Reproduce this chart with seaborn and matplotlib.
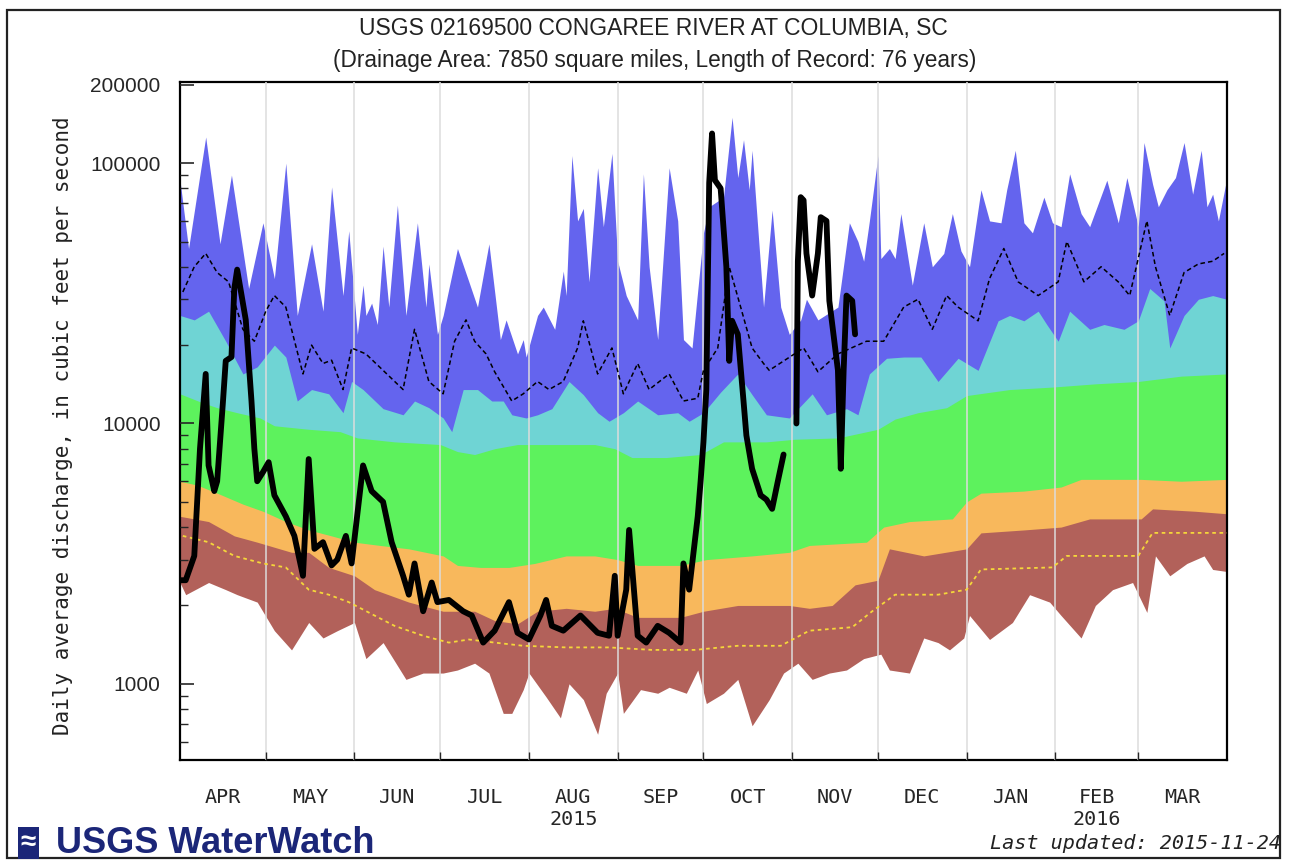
import matplotlib
matplotlib.use("Agg")
import matplotlib.pyplot as plt
import matplotlib.ticker as mticker
from matplotlib.patches import Rectangle
import seaborn as sns

# x axis: days since 2015-04-01
month_start = [0, 30, 61, 91, 122, 153, 183, 214, 244, 275, 306, 335, 366]
month_names = ["APR", "MAY", "JUN", "JUL", "AUG\n2015", "SEP", "OCT", "NOV",
               "DEC", "JAN", "FEB\n2016", "MAR"]

# daily maximum (top of the blue band)
max_day = [0, 3, 9, 14, 18, 24, 29, 33, 37, 41, 46, 50, 53, 57, 59, 62, 64, 65, 67, 69,
           71, 73, 76, 79, 83, 86, 87, 90, 92, 97, 101, 104, 108, 112, 114, 118, 120, 121,
           125, 127, 131, 134, 135, 137, 139, 141, 143, 146, 148, 151, 153, 156, 160, 162,
           164, 167, 171, 174, 176, 179, 183, 185, 190, 193, 195, 197, 199, 200, 204, 207,
           210, 213, 217, 219, 223, 230, 234, 237, 239, 241, 244, 245, 248, 250, 252, 256,
           260, 263, 267, 270, 273, 276, 280, 283, 287, 289, 292, 295, 298, 302, 305, 308,
           311, 315, 318, 321, 324, 328, 331, 335, 337, 340, 342, 345, 348, 351, 354, 357,
           359, 361, 363, 366]
max_cfs = [86000, 47000, 126000, 49000, 90000, 33000, 59000, 36000, 100000, 26000, 49000,
           27000, 81000, 31000, 55000, 22000, 34000, 26000, 29000, 24000, 48000, 28000,
           69000, 26000, 59000, 28000, 41000, 22000, 26000, 47000, 35000, 28000, 49000,
           21000, 25000, 18500, 21000, 18000, 26000, 28000, 23000, 38500, 31000, 107000,
           60000, 67000, 35000, 96000, 57000, 109000, 42000, 31000, 25000, 91000, 40000,
           21000, 96000, 60000, 21000, 19500, 54000, 68000, 74000, 150000, 88000, 123000,
           79000, 112000, 28000, 66000, 28000, 22000, 25000, 30000, 25000, 28000, 59000,
           50000, 42000, 60000, 107000, 43000, 47000, 43000, 64000, 34000, 59000, 40000,
           45000, 64000, 46000, 40000, 79000, 60000, 59000, 79000, 112000, 59000, 54000,
           74000, 59000, 57000, 91000, 64000, 57000, 70000, 86000, 59000, 88000, 57000,
           120000, 83000, 68000, 79000, 88000, 120000, 76000, 112000, 68000, 76000, 60000,
           88000]

# 90th percentile (blue / cyan boundary)
p90_day = [0, 5, 10, 16, 22, 27, 33, 37, 41, 46, 52, 57, 60, 64, 71, 78, 82, 87, 92, 95,
           99, 104, 109, 113, 116, 121, 125, 130, 136, 141, 146, 150, 155, 160, 167, 174,
           178, 183, 189, 195, 200, 205, 213, 221, 226, 233, 237, 241, 247, 253, 259, 265,
           272, 279, 286, 290, 295, 300, 303, 307, 311, 318, 323, 330, 335, 339, 344, 346,
           351, 356, 361, 366]
p90_cfs = [26000, 25000, 27000, 20700, 15500, 16500, 20000, 18000, 12200, 13500, 13000,
           11000, 14500, 13500, 11400, 10800, 12200, 11500, 10500, 9300, 13500, 13500,
           12200, 12200, 10800, 10500, 10800, 11400, 14500, 12900, 11000, 10200, 11000,
           12200, 10800, 11000, 10200, 11000, 13200, 15500, 12900, 10800, 10500, 13000,
           10800, 11400, 10800, 15500, 17800, 18000, 18000, 14500, 17800, 16000, 24800,
           26000, 24800, 27000, 24000, 20700, 27000, 23000, 24000, 23000, 24800, 33000,
           29600, 19500, 26000, 30000, 31000, 30000]

# 75th percentile (cyan / green boundary)
p75_day = [0, 8, 13, 20, 28, 33, 45, 56, 62, 75, 91, 97, 103, 110, 118, 130, 145, 152,
           158, 170, 182, 190, 205, 215, 230, 244, 250, 258, 268, 275, 290, 305, 320, 335,
           350, 366]
p75_cfs = [13000, 12000, 11500, 11000, 10500, 9800, 9500, 9300, 8800, 8500, 8300, 7800,
           7600, 8000, 8300, 8300, 8300, 8000, 7400, 7400, 7600, 8500, 8500, 8700, 8800,
           9500, 10400, 11000, 11500, 12800, 13500, 13800, 14200, 14500, 15200, 15500]

# 25th percentile (green / orange boundary)
p25_day = [0, 6, 13, 22, 29, 37, 45, 53, 61, 70, 80, 92, 97, 105, 115, 124, 135, 145,
           153, 160, 175, 184, 200, 213, 220, 240, 246, 255, 270, 275, 280, 295, 308, 315,
           336, 350, 366]
p25_cfs = [6000, 5800, 5400, 4900, 4600, 4200, 3900, 3700, 3500, 3400, 3300, 3100, 2850,
           2800, 2800, 2900, 3100, 3100, 3000, 2850, 2850, 3000, 3100, 3200, 3400, 3500,
           4000, 4200, 4300, 5000, 5400, 5500, 5700, 6100, 6100, 6000, 6100]

# 10th percentile (orange / brown boundary)
p10_day = [0, 5, 10, 19, 27, 39, 45, 52, 61, 68, 80, 92, 103, 110, 118, 125, 135, 145,
           152, 160, 175, 183, 195, 213, 220, 228, 236, 244, 248, 260, 275, 280, 295, 308,
           318, 336, 340, 355, 366]
p10_cfs = [4400, 4300, 4200, 3700, 3500, 3200, 3200, 2800, 2600, 2300, 2060, 1900, 1900,
           1750, 1700, 1900, 1950, 1900, 1950, 1800, 1800, 1900, 2000, 2000, 1950, 2000,
           2400, 2500, 3300, 3100, 3300, 3800, 3900, 4000, 4300, 4300, 4700, 4600, 4500]

# daily minimum (bottom of the brown band)
min_day = [0, 2, 10, 16, 20, 27, 33, 39, 45, 50, 55, 61, 65, 71, 79, 85, 92, 97, 103, 108,
           113, 116, 120, 122, 128, 133, 136, 141, 146, 149, 153, 155, 161, 167, 171, 177,
           181, 184, 190, 195, 200, 206, 211, 216, 221, 227, 233, 239, 245, 248, 255, 260,
           265, 269, 274, 276, 283, 291, 297, 304, 308, 315, 320, 326, 333, 338, 341, 346,
           352, 358, 361, 366]
min_cfs = [2450, 2200, 2450, 2300, 2200, 2060, 1600, 1350, 1720, 1500, 1600, 1720, 1250,
           1440, 1040, 1100, 1100, 1130, 1200, 1100, 770, 770, 950, 1100, 890, 740, 1000,
           870, 640, 920, 1100, 770, 950, 920, 970, 920, 1130, 840, 920, 1040, 690, 870,
           1100, 1200, 1040, 1100, 1130, 1250, 1300, 1130, 1100, 1500, 1440, 1350, 1500,
           1830, 1480, 1720, 2200, 2060, 1830, 1500, 2000, 2300, 2450, 1880, 3100, 2600,
           2900, 3100, 2750, 2700]

# long-term mean (black dashed)
mean_day = [1, 5, 9, 13, 17, 22, 26, 30, 33, 37, 39, 43, 46, 50, 53, 57, 60, 65, 71, 78,
            82, 87, 92, 96, 100, 103, 107, 110, 116, 120, 125, 129, 134, 139, 141, 146,
            151, 155, 160, 164, 171, 176, 181, 183, 188, 192, 196, 200, 204, 206, 218, 223,
            230, 240, 246, 253, 258, 263, 268, 272, 279, 283, 288, 293, 300, 307, 310, 316,
            322, 328, 332, 338, 341, 346, 351, 356, 361, 365]
mean_cfs = [32000, 40000, 45000, 38000, 35000, 23000, 20700, 27000, 31000, 28000, 23000,
            15500, 20000, 17000, 17500, 13500, 19500, 18500, 16000, 13500, 23000, 14500,
            13000, 20700, 25000, 20700, 18500, 15800, 12200, 13000, 14500, 13500, 14500,
            19500, 24800, 15500, 19500, 13000, 17000, 13500, 15500, 12200, 12500, 16000,
            19500, 40000, 28000, 19500, 17000, 16000, 19500, 15800, 18500, 20700, 20700,
            28000, 30000, 23000, 31000, 28000, 24800, 36000, 47000, 35000, 31000, 35000,
            50000, 35000, 40000, 35000, 31000, 60000, 40000, 26000, 38000, 41000, 42000,
            45000]

# yellow dashed line inside the brown band
low_day = [1, 10, 19, 29, 37, 45, 52, 59, 68, 75, 85, 94, 101, 110, 120, 135, 150, 165,
           180, 195, 210, 220, 235, 242, 250, 265, 275, 280, 305, 310, 335, 340, 366]
low_cfs = [3700, 3500, 3100, 2900, 2800, 2300, 2200, 2060, 1830, 1670, 1530, 1440, 1480,
           1440, 1400, 1380, 1380, 1350, 1350, 1400, 1400, 1600, 1650, 1900, 2200, 2200,
           2300, 2750, 2800, 3100, 3100, 3800, 3800]

# current year flow, two pieces (gap around day 212-215)
flow1_day = [0, 2, 5, 7, 9, 10, 12, 13, 15, 16, 18, 19, 20, 23, 25, 26, 27, 29, 31, 33,
             37, 40, 43, 45, 47, 50, 53, 55, 58, 60, 64, 67, 71, 74, 78, 80, 82, 85, 88,
             90, 94, 99, 102, 106, 110, 115, 118, 122, 126, 128, 130, 134, 140, 146, 150,
             152, 153, 156, 157, 160, 163, 167, 171, 175, 176, 178, 181, 182, 183, 184,
             185, 186, 187, 189, 191, 192, 193, 195, 197, 198, 200, 203, 205, 207, 209,
             211]
flow1_cfs = [2500, 2500, 3100, 8000, 15500, 6900, 5500, 6000, 12000, 17400, 18000, 33000,
             39000, 25000, 12200, 8000, 6000, 6500, 7100, 5300, 4400, 3700, 2600, 7300,
             3300, 3500, 2850, 3000, 3700, 2900, 6900, 5500, 5000, 3500, 2600, 2200, 2900,
             1900, 2450, 2060, 2100, 1900, 1830, 1440, 1600, 2060, 1570, 1480, 1830, 2100,
             1670, 1600, 1830, 1570, 1530, 2600, 1530, 2300, 3900, 1530, 1440, 1670, 1570,
             1440, 2900, 2300, 4400, 6000, 8500, 13500, 84000, 130000, 86000, 80000, 40000,
             17400, 24800, 22000, 12200, 9000, 6700, 5300, 5100, 4700, 6000, 7600]
flow2_day = [215.5, 216, 217, 218, 219, 221, 223, 224, 226, 227, 230, 231, 232, 233, 235,
             236]
flow2_cfs = [10000, 42000, 74000, 72000, 45000, 31000, 45000, 62000, 60000, 29600, 16000,
             6700, 16000, 31000, 29600, 22000]

band_colors = ["#6464ee", "#6fd4d4", "#5df25d", "#f8b85c", "#b2615a"]

sns.set_theme(style="white")
plt.rcParams["font.family"] = ["Liberation Sans", "DejaVu Sans"]

fig = plt.figure(figsize=(12.91, 8.63), dpi=100)
ax = fig.add_axes([0.1394, 0.1194, 0.811, 0.7856])

floor = 300
bands = [(max_day, max_cfs), (p90_day, p90_cfs), (p75_day, p75_cfs),
         (p25_day, p25_cfs), (p10_day, p10_cfs)]
for (d, v), c in zip(bands, band_colors):
    ax.fill_between(d, v, floor, color=c, linewidth=0, zorder=1)
ax.fill_between(min_day, min_cfs, floor, color="white", linewidth=0, zorder=1.1)

sns.lineplot(x=low_day, y=low_cfs, ax=ax, color="#f5d73a", lw=1.3,
             linestyle=(0, (2, 2)), zorder=3)
sns.lineplot(x=mean_day, y=mean_cfs, ax=ax, color="black", lw=1.1,
             linestyle=(0, (3, 2)), zorder=3)
sns.lineplot(x=flow1_day, y=flow1_cfs, ax=ax, color="black", lw=4.2, zorder=4)
sns.lineplot(x=flow2_day, y=flow2_cfs, ax=ax, color="black", lw=4.2, zorder=4)

ax.set_yscale("log")
ax.set_xlim(month_start[0], month_start[-1])
ax.set_ylim(510, 205000)

ax.set_yticks([1000, 10000, 100000, 200000])
ax.set_yticklabels(["1000", "10000", "100000", "200000"])
ax.yaxis.set_minor_locator(mticker.LogLocator(base=10, subs=range(2, 10)))
ax.yaxis.set_minor_formatter(mticker.NullFormatter())
ax.tick_params(axis="y", which="major", direction="in", length=10, width=1.2,
               labelsize=15, pad=14, left=True, right=False)
ax.tick_params(axis="y", which="minor", direction="in", length=6, width=1.0,
               left=True, right=False)

mids = [(a + b) / 2 for a, b in zip(month_start[:-1], month_start[1:])]
ax.set_xticks(month_start[1:-1])
ax.set_xticklabels([])
ax.set_xticks(mids, minor=True)
ax.set_xticklabels(month_names, minor=True, fontfamily="DejaVu Sans Mono",
                   fontsize=14.5, va="top", linespacing=1.25)
ax.tick_params(axis="x", which="major", direction="in", length=6, width=1.0,
               bottom=True, top=False)
ax.tick_params(axis="x", which="minor", length=0, pad=20)

ax.grid(axis="x", which="major", color="#dcdcdc", lw=1.1)
ax.grid(axis="y", visible=False)
ax.set_axisbelow(False)
for s in ax.spines.values():
    s.set_color("black")
    s.set_linewidth(1.6)
ax.set_xlabel("")
ax.set_ylabel("")

fig.text(0.049, 0.507, "Daily average discharge, in cubic feet per second",
         rotation=90, ha="center", va="center", fontsize=15,
         fontfamily="DejaVu Sans Mono", color="#222222")
fig.text(0.506, 1 - 29 / 863, "USGS 02169500 CONGAREE RIVER AT COLUMBIA, SC",
         ha="center", va="center", fontsize=16.5, color="#222222")
fig.text(0.507, 1 - 61 / 863,
         "(Drainage Area: 7850 square miles, Length of Record: 76 years)",
         ha="center", va="center", fontsize=16.3, color="#222222")
fig.text(0.992, 1 - 843 / 863, "Last updated: 2015-11-24", ha="right", va="center",
         fontsize=14.5, fontfamily="DejaVu Sans Mono", fontstyle="italic",
         color="#222222")
fig.text(0.016, 1 - 843 / 863, "\u2248", ha="left", va="center", fontsize=20,
         color="white", fontweight="bold",
         bbox=dict(boxstyle="square,pad=0.1", facecolor="#1b2678", edgecolor="none"))
fig.text(0.043, 1 - 843 / 863, "USGS WaterWatch", ha="left", va="center",
         fontsize=26, fontweight="bold", color="#1b2678")

fig.patches.append(Rectangle((0.0055, 0.006), 0.986, 0.982, transform=fig.transFigure,
                             fill=False, edgecolor="#222222", lw=1.6))

fig.savefig("out.png", dpi=100)
